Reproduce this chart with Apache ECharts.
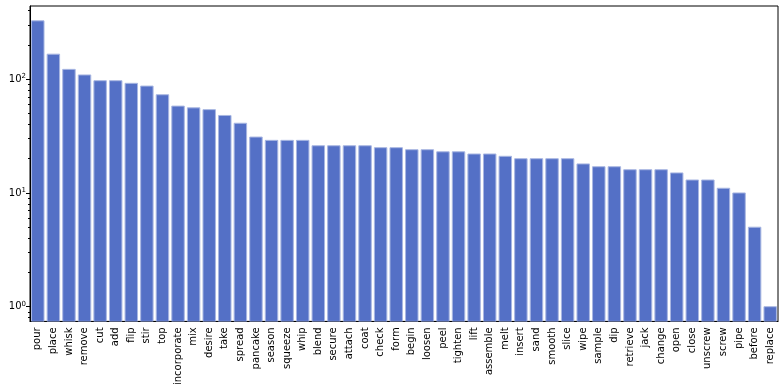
<!DOCTYPE html>
<html>
<head>
<meta charset="utf-8">
<script src="https://cdn.jsdelivr.net/npm/echarts@6/dist/echarts.min.js"></script>
<style>
  html, body { margin: 0; padding: 0; background: #fff; }
  #chart { width: 783px; height: 388px; }
</style>
</head>
<body>
<div id="chart"></div>
<script>
// 动词及其出现次数
const verbs = ['pour', 'place', 'whisk', 'remove', 'cut', 'add', 'flip', 'stir', 'top', 'incorporate',
  'mix', 'desire', 'take', 'spread', 'pancake', 'season', 'squeeze', 'whip', 'blend', 'secure',
  'attach', 'coat', 'check', 'form', 'begin', 'loosen', 'peel', 'tighten', 'lift', 'assemble',
  'melt', 'insert', 'sand', 'smooth', 'slice', 'wipe', 'sample', 'dip', 'retrieve', 'jack',
  'change', 'open', 'close', 'unscrew', 'screw', 'pipe', 'before', 'replace']
const counts = [326, 166, 122, 109, 97, 97, 92, 87, 73, 58,
  56, 54, 48, 41, 31, 29, 29, 29, 26, 26,
  26, 26, 25, 25, 24, 24, 23, 23, 22, 22,
  21, 20, 20, 20, 20, 18, 17, 17, 16, 16,
  16, 15, 13, 13, 11, 10, 5, 1]

// 对数轴刻度
const majorTicks = [1, 10, 100]
const minorTicks = [0.8, 0.9, 2, 3, 4, 5, 6, 7, 8, 9, 20, 30, 40, 50, 60, 70, 80, 90, 200, 300, 400]

const yMin = 0.743
const yMax = 440

const chart = echarts.init(document.getElementById('chart'))

/**
 * 柱子从坐标轴底部画起（对数轴下 bar 默认从 1 开始）
 */
const renderBar = (params, api) => {
  const top = api.coord([api.value(0), api.value(1)])
  const base = api.coord([api.value(0), yMin])
  const w = api.size([1, 0])[0] * 0.8
  return {
    type: 'rect',
    shape: { x: top[0] - w / 2, y: top[1], width: w, height: base[1] - top[1] },
    style: { fill: '#5470c6', stroke: '#a9b7e2', lineWidth: 1 }
  }
}

const option = {
  animation: false,
  grid: {
    left: 30,
    right: 5,
    top: 6,
    bottom: 66,
    show: true,
    borderColor: '#000',
    borderWidth: 1
  },
  xAxis: {
    type: 'category',
    data: verbs,
    boundaryGap: true,
    axisLine: { lineStyle: { color: '#000' } },
    axisTick: { alignWithLabel: true, length: 4, lineStyle: { color: '#000' } },
    axisLabel: {
      rotate: 90,
      interval: 0,
      color: '#000',
      fontSize: 10,
      fontFamily: 'DejaVu Sans',
      margin: 6
    }
  },
  yAxis: [
    {
      type: 'log',
      logBase: 10,
      min: yMin,
      max: yMax,
      splitLine: { show: false },
      axisLine: { show: true, lineStyle: { color: '#000' } },
      axisTick: { show: true, length: 4, customValues: majorTicks, lineStyle: { color: '#000' } },
      axisLabel: {
        customValues: majorTicks,
        color: '#000',
        fontSize: 10,
        fontFamily: 'DejaVu Sans',
        margin: 4,
        formatter: (v) => '10{sup|' + Math.round(Math.log10(v)) + '}',
        rich: {
          sup: { fontSize: 7, fontFamily: 'DejaVu Sans', color: '#000', padding: [0, 0, 6, 0] }
        }
      }
    },
    {
      type: 'log',
      logBase: 10,
      position: 'left',
      min: yMin,
      max: yMax,
      splitLine: { show: false },
      axisLine: { show: false },
      axisTick: { show: true, length: 2, customValues: minorTicks, lineStyle: { color: '#000' } },
      axisLabel: { show: false }
    }
  ],
  series: [
    {
      type: 'custom',
      renderItem: renderBar,
      clip: true,
      encode: { x: 0, y: 1 },
      data: counts.map((c, i) => [i, c])
    }
  ]
}

chart.setOption(option)
</script>
</body>
</html>
